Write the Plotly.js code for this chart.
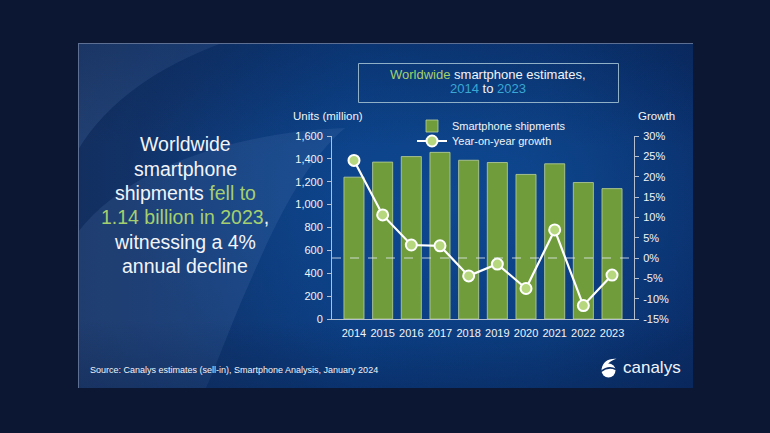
<!DOCTYPE html>
<html>
<head>
<meta charset="utf-8">
<script src="https://cdn.plot.ly/plotly-3.0.1.min.js"></script>
<style>
  html, body { margin: 0; padding: 0; background: #0b1733; }
  #wrap { position: relative; width: 770px; height: 433px; overflow: hidden; background: #0b1733; }
  #bg { position: absolute; left: 0; top: 0; }
  #chart { position: absolute; left: 0; top: 0; width: 770px; height: 433px; }
</style>
</head>
<body>
<div id="wrap">
<svg id="bg" width="770" height="433" xmlns="http://www.w3.org/2000/svg">
  <defs>
    <linearGradient id="pg" x1="0" y1="0" x2="1" y2="0">
      <stop offset="0" stop-color="#132f60"/>
      <stop offset="0.45" stop-color="#0b3d82"/>
      <stop offset="0.75" stop-color="#0b3a7c"/>
      <stop offset="1" stop-color="#0a2d68"/>
    </linearGradient>
    <radialGradient id="hl" cx="0.62" cy="0.45" r="0.55">
      <stop offset="0" stop-color="#0f4c96" stop-opacity="0.75"/>
      <stop offset="1" stop-color="#0f4c96" stop-opacity="0"/>
    </radialGradient>
    <linearGradient id="vg" x1="0" y1="0" x2="0" y2="1">
      <stop offset="0" stop-color="#071a40" stop-opacity="0.25"/>
      <stop offset="0.3" stop-color="#071a40" stop-opacity="0"/>
      <stop offset="0.8" stop-color="#071a40" stop-opacity="0"/>
      <stop offset="1" stop-color="#071a40" stop-opacity="0.3"/>
    </linearGradient>
    <clipPath id="pc"><rect x="78" y="43" width="615" height="345"/></clipPath>
  </defs>
  <g clip-path="url(#pc)">
    <rect x="78" y="43" width="615" height="345" fill="url(#pg)"/>
    <rect x="78" y="43" width="615" height="345" fill="url(#hl)"/>
    <path d="M78,43 L222,43 C160,66 108,100 78,150 Z" fill="#6f95cc" fill-opacity="0.16"/>
    <path d="M78,232 C130,165 240,132 345,128 C295,170 262,255 242,300 C226,338 216,366 206,388 L78,388 Z" fill="#6f95cc" fill-opacity="0.14"/>
    <rect x="78" y="43" width="615" height="345" fill="url(#vg)"/>
  </g>
  <line x1="78" y1="43.5" x2="693" y2="43.5" stroke="#5d6f92" stroke-width="1"/>
  <line x1="78.5" y1="43" x2="78.5" y2="388" stroke="#5d6f92" stroke-width="1"/>
  <!-- canalys logo glyph -->
  <circle cx="608.5" cy="370.5" r="7" fill="#ffffff"/>
  <path d="M601.8,369 C602.5,362 608,358.2 616.5,358.8 C610.5,360.8 606.5,364 604.8,369.5 Z" fill="#ffffff"/>
  <path d="M601,371.5 Q608.5,365.5 616,369.5" stroke="#0b2f66" stroke-width="1.6" fill="none"/>
</svg>
<div id="chart"></div>
</div>
<script>
// ---- data ----
var years = ["2014","2015","2016","2017","2018","2019","2020","2021","2022","2023"];
var shipments = [1240, 1372, 1420, 1457, 1388, 1368, 1264, 1357, 1193, 1140];
var growth = [24.0, 10.6, 3.2, 3.0, -4.4, -1.5, -7.5, 6.9, -11.7, -4.2];
var unitTicks = [0, 200, 400, 600, 800, 1000, 1200, 1400, 1600];
var growthTicks = [-15, -10, -5, 0, 5, 10, 15, 20, 25, 30];
var growthTickText = ["-15%", "-10%", "-5%", "0%", "5%", "10%", "15%", "20%", "25%", "30%"];

// ---- geometry helpers (pixel -> paper) ----
var L = 332, R = 634, T = 136, B = 319;
var W = R - L, H = B - T;
function px(x) { return (x - L) / W; }
function py(y) { return (B - y) / H; }

var FONT = '"Liberation Sans", Arial, sans-serif';
var WHITE = '#f2f4f8';
var GREEN_TXT = '#a5cf6f';
var CYAN_TXT = '#3aa7d4';
var AXIS = '#b3bfcf';

var traces = [
  {
    type: 'bar', x: years, y: shipments, name: 'Smartphone shipments',
    marker: { color: '#709c3c', line: { color: '#bcd29a', width: 0.8 } },
    yaxis: 'y', legend: 'legend', hoverinfo: 'skip'
  },
  {
    type: 'scatter', mode: 'lines+markers', x: years, y: growth, name: 'Year-on-year growth',
    yaxis: 'y2', legend: 'legend2', line: { color: '#ffffff', width: 2.2 },
    marker: { size: 11, color: '#b6d77e', line: { color: '#ffffff', width: 2 } },
    hoverinfo: 'skip'
  }
];

function ann(text, x, y, size, opts) {
  var a = {
    text: text, xref: 'paper', yref: 'paper', x: px(x), y: py(y),
    xanchor: 'center', yanchor: 'middle', showarrow: false,
    font: { family: FONT, size: size, color: WHITE }
  };
  if (opts) for (var k in opts) a[k] = opts[k];
  return a;
}
function g(t) { return '<span style="color:' + GREEN_TXT + '">' + t + '</span>'; }
function c(t) { return '<span style="color:' + CYAN_TXT + '">' + t + '</span>'; }

var annotations = [
  ann('Worldwide', 185, 144, 19.5),
  ann('smartphone', 185, 168.5, 19.5),
  ann('shipments ' + g('fell to'), 185, 193, 19.5),
  ann(g('1.14 billion in 2023') + ',', 185, 217, 19.5),
  ann('witnessing a 4%', 185, 242, 19.5),
  ann('annual decline', 185, 266, 19.5),
  ann(g('Worldwide') + ' smartphone estimates,', 488, 74, 13),
  ann(c('2014') + ' to ' + c('2023'), 488, 88.5, 13),
  ann('Units (million)', 328, 115.5, 11.5),
  ann('Growth', 656, 115.5, 11.5),
  ann('Source: Canalys estimates (sell-in), Smartphone Analysis, January 2024', 88, 369.5, 9, { xanchor: 'left' }),
  ann('canalys', 621, 367, 17, { xanchor: 'left' })
];

var shapes = [
  { type: 'rect', xref: 'paper', yref: 'paper', x0: px(358.5), x1: px(618.5), y0: py(102.5), y1: py(63.5),
    line: { color: '#8fb0c6', width: 1 }, fillcolor: 'rgba(0,0,0,0)' },
  { type: 'line', xref: 'paper', yref: 'y2', x0: 0, x1: 1, y0: 0, y1: 0,
    line: { color: 'rgba(230,236,245,0.8)', width: 1, dash: 'dash' }, layer: 'above' }
];

function legendAt(x, y) {
  return {
    x: px(x), y: py(y), xanchor: 'left', yanchor: 'middle',
    bgcolor: 'rgba(0,0,0,0)', font: { family: FONT, size: 11, color: WHITE },
    itemwidth: 30, borderwidth: 0
  };
}

var layout = {
  width: 770, height: 433,
  margin: { l: L, r: 770 - R, t: T, b: 433 - B, pad: 0 },
  paper_bgcolor: 'rgba(0,0,0,0)', plot_bgcolor: 'rgba(0,0,0,0)',
  font: { family: FONT, color: WHITE, size: 11 },
  bargap: 0.3,
  showlegend: true,
  legend: legendAt(412, 126),
  legend2: legendAt(412, 141),
  xaxis: {
    type: 'category', showline: true, linecolor: AXIS, linewidth: 1,
    ticks: '', showgrid: false, zeroline: false,
    tickfont: { family: FONT, size: 11, color: WHITE }, ticklabelstandoff: 4
  },
  yaxis: {
    range: [0, 1600], tickvals: unitTicks, tickformat: ',', showline: true, linecolor: AXIS,
    ticks: 'outside', ticklen: 4, tickcolor: AXIS, showgrid: false, zeroline: false,
    tickfont: { family: FONT, size: 11, color: WHITE }, ticklabelstandoff: 2
  },
  yaxis2: {
    overlaying: 'y', side: 'right', range: [-15, 30], tickmode: 'array',
    tickvals: growthTicks, ticktext: growthTickText,
    showline: true, linecolor: AXIS, ticks: 'outside', ticklen: 4, tickcolor: AXIS,
    showgrid: false, zeroline: false,
    tickfont: { family: FONT, size: 11, color: WHITE }, ticklabelstandoff: 2
  },
  annotations: annotations,
  shapes: shapes
};

Plotly.newPlot('chart', traces, layout, { staticPlot: true, displayModeBar: false });
</script>
</body>
</html>
